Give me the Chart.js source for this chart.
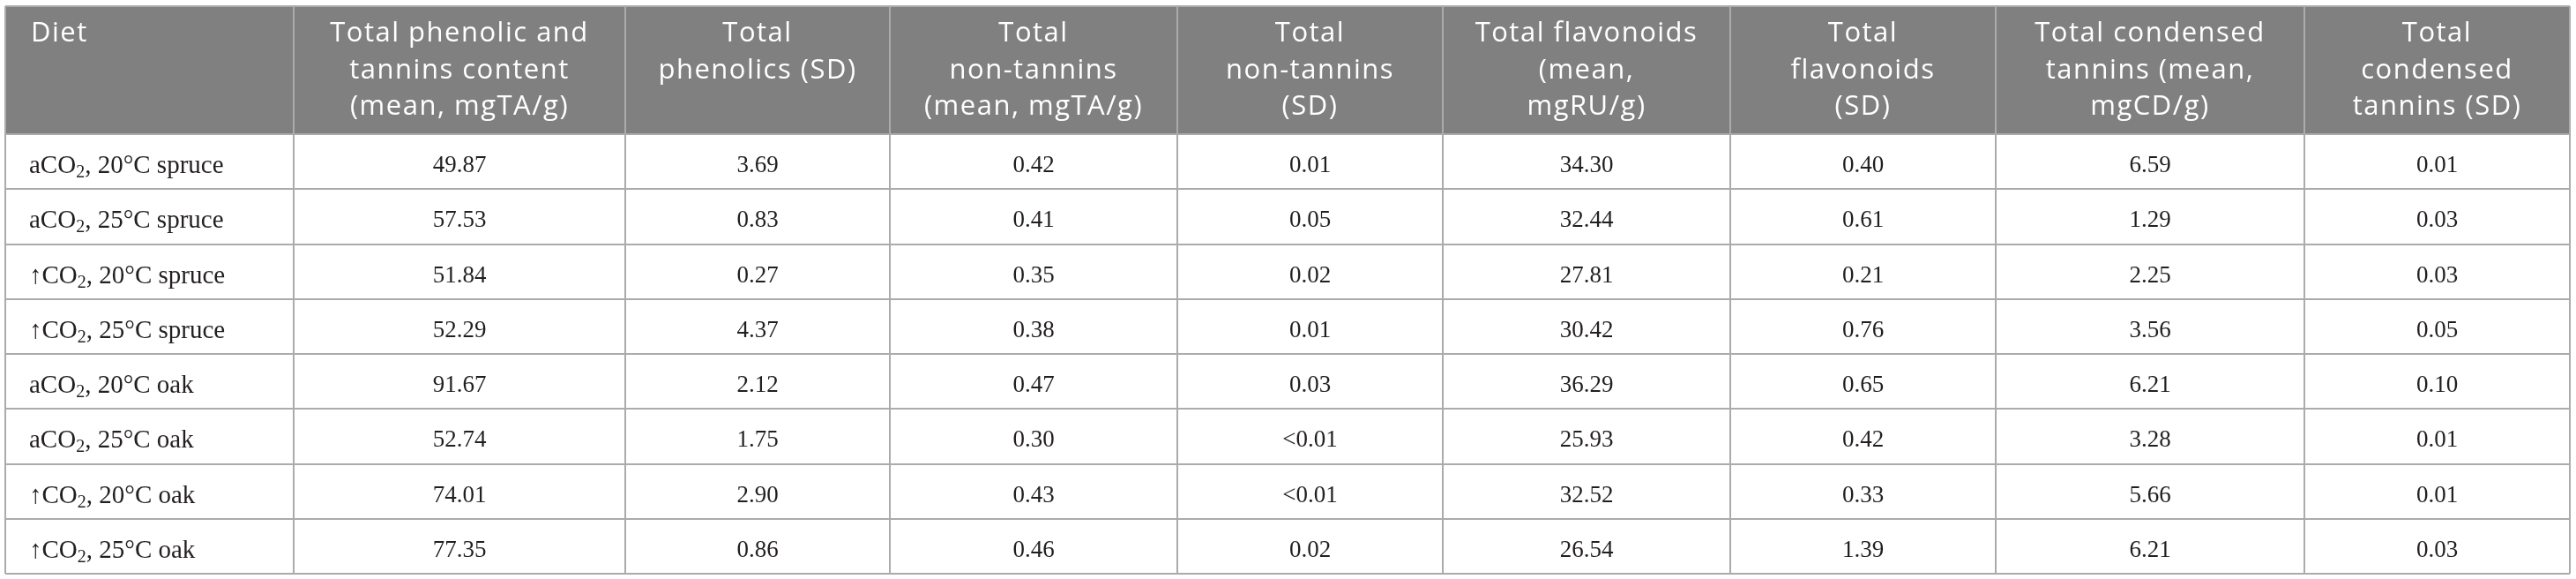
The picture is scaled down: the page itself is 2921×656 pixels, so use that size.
<!DOCTYPE html>
<html><head><meta charset="utf-8">
<script src="https://cdn.jsdelivr.net/npm/chart.js@4.4.1/dist/chart.umd.min.js"></script>
<style>html,body{margin:0;padding:0;background:#fff;overflow:hidden}#wrap{width:2921px;height:656px;position:relative}</style>
</head><body><div id="wrap"><canvas id="c" width="2921" height="656"></canvas></div>
<script>
// ---- table content ----
const headers = [
  ["Diet"],
  ["Total phenolic and", "tannins content", "(mean, mgTA/g)"],
  ["Total", "phenolics (SD)"],
  ["Total", "non-tannins", "(mean, mgTA/g)"],
  ["Total", "non-tannins", "(SD)"],
  ["Total flavonoids", "(mean,", "mgRU/g)"],
  ["Total", "flavonoids", "(SD)"],
  ["Total condensed", "tannins (mean,", "mgCD/g)"],
  ["Total", "condensed", "tannins (SD)"]
];
const diets = [
  "aCO₂, 20°C spruce", "aCO₂, 25°C spruce", "↑CO₂, 20°C spruce", "↑CO₂, 25°C spruce",
  "aCO₂, 20°C oak", "aCO₂, 25°C oak", "↑CO₂, 20°C oak", "↑CO₂, 25°C oak"
];
const phenolicMean  = ["49.87", "57.53", "51.84", "52.29", "91.67", "52.74", "74.01", "77.35"];
const phenolicSD    = ["3.69", "0.83", "0.27", "4.37", "2.12", "1.75", "2.90", "0.86"];
const nonTanninMean = ["0.42", "0.41", "0.35", "0.38", "0.47", "0.30", "0.43", "0.46"];
const nonTanninSD   = ["0.01", "0.05", "0.02", "0.01", "0.03", "<0.01", "<0.01", "0.02"];
const flavMean      = ["34.30", "32.44", "27.81", "30.42", "36.29", "25.93", "32.52", "26.54"];
const flavSD        = ["0.40", "0.61", "0.21", "0.76", "0.65", "0.42", "0.33", "1.39"];
const condMean      = ["6.59", "1.29", "2.25", "3.56", "6.21", "3.28", "5.66", "6.21"];
const condSD        = ["0.01", "0.03", "0.03", "0.05", "0.10", "0.01", "0.01", "0.03"];
const valueColumns = [phenolicMean, phenolicSD, nonTanninMean, nonTanninSD, flavMean, flavSD, condMean, condSD];

// ---- layout (scale units) ----
const colWidths = [327, 376, 300, 326, 301, 326, 301, 350, 301];
const headerHeight = 145;
const rowHeight = 62.25;
const labelPad = 27;

const colBounds = [0];
colWidths.forEach(w => colBounds.push(colBounds[colBounds.length - 1] + w));
const rowBounds = [0, headerHeight];
diets.forEach(() => rowBounds.push(rowBounds[rowBounds.length - 1] + rowHeight));
const totalW = colBounds[colBounds.length - 1];
const totalH = rowBounds[rowBounds.length - 1];
const colCenter = i => (colBounds[i] + colBounds[i + 1]) / 2;

// datasets: one point per cell (text drawn at the point element)
const headerPoints = headers.map((lines, i) => ({ x: i === 0 ? colBounds[0] + labelPad + 2 : colCenter(i), y: 0, lines }));
const dietPoints = diets.map((d, r) => ({ x: colBounds[0] + labelPad, y: rowBounds[r + 1], text: d }));
const valuePoints = [];
valueColumns.forEach((col, c) => col.forEach((v, r) => valuePoints.push({ x: colCenter(c + 1), y: rowBounds[r + 1], text: v })));

const GRID = '#ababab';
const HEADER_BG = '#808080';
const SERIF = '"Liberation Serif", "Times New Roman", serif';
const SANS = '"Open Sans", "Noto Sans", sans-serif';

function drawRich(ctx, text, x, y, size) {
  const parts = text.split('₂');
  let cx = x;
  parts.forEach((p, i) => {
    ctx.font = size + 'px ' + SERIF;
    ctx.fillText(p, cx, y);
    cx += ctx.measureText(p).width;
    if (i < parts.length - 1) {
      ctx.font = Math.round(size * 0.7) + 'px ' + SERIF;
      ctx.fillText('2', cx, y + 5);
      cx += ctx.measureText('2').width;
    }
  });
}

const tablePlugin = {
  id: 'tablePlugin',
  beforeDraw(chart) {
    const { ctx, scales: { x, y } } = chart;
    ctx.save();
    ctx.fillStyle = '#ffffff';
    ctx.fillRect(0, 0, chart.width, chart.height);
    const x0 = x.getPixelForValue(0), x1 = x.getPixelForValue(totalW);
    const y0 = y.getPixelForValue(0), y1 = y.getPixelForValue(headerHeight);
    ctx.fillStyle = HEADER_BG;
    ctx.fillRect(x0, y0, x1 - x0, y1 - y0);
    ctx.restore();
  },
  afterDatasetsDraw(chart) {
    const { ctx } = chart;
    ctx.save();
    chart.data.datasets.forEach((ds, di) => {
      const meta = chart.getDatasetMeta(di);
      meta.data.forEach((el, i) => {
        const d = ds.data[i];
        if (ds.kind === 'header') {
          ctx.fillStyle = '#ffffff';
          ctx.font = '31px ' + SANS;
          ctx.letterSpacing = '1.5px';
          ctx.textBaseline = 'alphabetic';
          ctx.textAlign = i === 0 ? 'left' : 'center';
          d.lines.forEach((ln, k) => ctx.fillText(ln, el.x, el.y + 40 + k * 41.5));
          ctx.letterSpacing = '0px';
        } else if (ds.kind === 'diet') {
          ctx.fillStyle = '#231f20';
          ctx.textAlign = 'left';
          ctx.textBaseline = 'alphabetic';
          drawRich(ctx, d.text, el.x, el.y + 44, 29);
        } else {
          ctx.fillStyle = '#231f20';
          ctx.textAlign = 'center';
          ctx.textBaseline = 'alphabetic';
          ctx.font = '27px ' + SERIF;
          ctx.fillText(d.text, el.x, el.y + 43);
        }
      });
    });
    ctx.restore();
  }
};

const gridOpts = { color: GRID, lineWidth: 2, drawTicks: false };
new Chart(document.getElementById('c'), {
  type: 'scatter',
  data: {
    datasets: [
      { kind: 'header', data: headerPoints, pointRadius: 0 },
      { kind: 'diet', data: dietPoints, pointRadius: 0 },
      { kind: 'value', data: valuePoints, pointRadius: 0 }
    ]
  },
  options: {
    responsive: false,
    devicePixelRatio: 1,
    animation: false,
    events: [],
    layout: { padding: { left: 6, top: 7, right: 7, bottom: 6 } },
    plugins: { legend: { display: false }, tooltip: { enabled: false } },
    scales: {
      x: {
        type: 'linear', min: 0, max: totalW,
        afterBuildTicks: s => { s.ticks = colBounds.map(v => ({ value: v })); },
        afterFit: s => { s.height = 0; },
        ticks: { display: false },
        grid: gridOpts,
        border: { display: false }
      },
      y: {
        type: 'linear', reverse: true, min: 0, max: totalH,
        afterBuildTicks: s => { s.ticks = rowBounds.map(v => ({ value: v })); },
        afterFit: s => { s.width = 0; },
        ticks: { display: false },
        grid: gridOpts,
        border: { display: false }
      }
    }
  },
  plugins: [tablePlugin]
});
</script>
</body></html>
